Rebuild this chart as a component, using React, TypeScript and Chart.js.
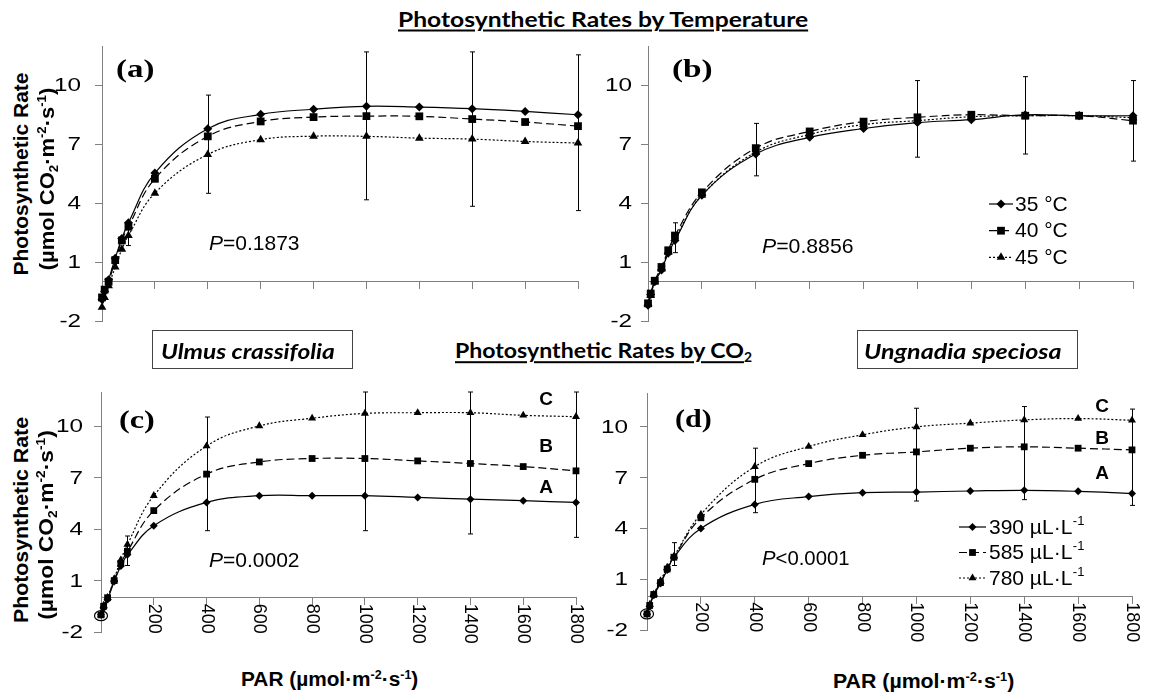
import React, { useEffect, useLayoutEffect, useRef, useState } from 'react';
import { Chart, registerables } from 'chart.js';
Chart.register(...registerables);

// ---------- data ----------
const PAR = [0, 10, 25, 50, 75, 100, 200, 400, 600, 800, 1000, 1200, 1400, 1600, 1800];
const X_TICKS = [200, 400, 600, 800, 1000, 1200, 1400, 1600, 1800];
const Y_TICKS = [-2, 1, 4, 7, 10];

// (a) Ulmus crassifolia by temperature
const A_T35 = [-0.9, -0.5, 0.1, 1.2, 2.2, 3.0, 5.53, 7.79, 8.52, 8.78, 8.93, 8.89, 8.81, 8.67, 8.5];
const A_T40 = [-0.8, -0.4, 0.0, 1.1, 2.1, 2.8, 5.24, 7.4, 8.16, 8.38, 8.43, 8.42, 8.28, 8.13, 7.92];
const A_T45 = [-1.3, -0.8, -0.2, 0.75, 1.65, 2.35, 4.51, 6.48, 7.23, 7.41, 7.4, 7.31, 7.26, 7.14, 7.06];
const A_ERR_X = [100, 400, 1000, 1400, 1800];
const A_ERR_LO = [1.84, 4.5, 4.17, 3.84, 3.62];
const A_ERR_HI = [2.9, 9.5, 11.7, 11.7, 11.55];

// (b) Ungnadia speciosa by temperature
const B_T35 = [-1.2, -0.65, 0.0, 0.6, 1.45, 2.1, 4.4, 6.5, 7.35, 7.8, 8.1, 8.25, 8.5, 8.45, 8.45];
const B_T40 = [-1.1, -0.6, 0.05, 0.75, 1.6, 2.35, 4.55, 6.8, 7.65, 8.15, 8.37, 8.5, 8.45, 8.45, 8.2];
const B_T45 = [-1.15, -0.7, 0.0, 0.65, 1.5, 2.2, 4.4, 6.6, 7.5, 8.0, 8.2, 8.4, 8.45, 8.45, 8.35];
const B_ERR_X = [100, 400, 1000, 1400, 1800];
const B_ERR_LO = [1.48, 5.39, 6.34, 6.5, 6.14];
const B_ERR_HI = [3.0, 8.06, 10.24, 10.44, 10.24];

// (c) Ulmus crassifolia by CO2
const C_390 = [-1.0, -0.6, -0.1, 0.95, 1.85, 2.5, 4.2, 5.56, 5.95, 5.95, 5.95, 5.85, 5.75, 5.66, 5.56];
const C_585 = [-1.0, -0.5, 0.0, 1.0, 2.0, 2.7, 5.08, 7.21, 7.92, 8.12, 8.12, 7.98, 7.83, 7.65, 7.4];
const C_780 = [-1.0, -0.45, 0.0, 1.1, 2.2, 3.1, 5.95, 8.85, 10.02, 10.47, 10.75, 10.79, 10.79, 10.64, 10.56];
const C_ERR_X = [100, 400, 1000, 1400, 1800];
const C_ERR_LO = [1.88, 3.91, 3.91, 3.72, 3.52];
const C_ERR_HI = [3.6, 10.54, 12, 12, 12];

// (d) Ungnadia speciosa by CO2
const D_390 = [-1.05, -0.6, 0.05, 0.75, 1.55, 2.3, 4.0, 5.42, 5.88, 6.11, 6.15, 6.21, 6.25, 6.19, 6.07];
const D_585 = [-1.05, -0.55, 0.1, 0.8, 1.6, 2.3, 4.63, 6.9, 7.83, 8.32, 8.52, 8.74, 8.82, 8.74, 8.64];
const D_780 = [-1.0, -0.5, 0.1, 0.9, 1.7, 2.35, 4.83, 7.65, 8.84, 9.53, 10.0, 10.22, 10.41, 10.49, 10.39];
const D_ERR_X = [100, 400, 1000, 1400, 1800];
const D_ERR_LO = [1.81, 4.93, 5.62, 5.7, 5.36];
const D_ERR_HI = [3.16, 8.74, 11.1, 11.2, 11.05];

const ORIGIN_MARK = [0, -1.05];

const TEMP_LABELS = ['35 °C', '40 °C', '45 °C'];
const CO2_LABELS = ['390 µL·L', '585 µL·L', '780 µL·L'];
const CO2_SUP = '-1';
const GROUP_LETTERS = ['A', 'B', 'C'];
const P_VALUES = ['=0.1873', '=0.8856', '=0.0002', '<0.0001'];
const PANEL_TAGS = ['(a)', '(b)', '(c)', '(d)'];

// ---------- styles ----------
const AXIS = '#808080';
const INK = '#000';
const SERIES_STYLE = [
  { dash: [] as number[], point: 'rectRot' },
  { dash: [8, 4], point: 'rect' },
  { dash: [2, 2], point: 'triangle' },
];

type Legend = { kind: 'temp' | 'co2'; x0: number; x1: number; tx: number; ys: number[] };
type PanelCfg = {
  id: string; left: number; top: number; w: number; h: number; padB: number;
  series: number[][]; errX: number[]; errLo: number[]; errHi: number[];
  radii: number[]; yLabOff: number; xLabels: boolean; origin: boolean; legend: Legend | null;
};

const PANELS: PanelCfg[] = [
  { id: 'a', left: 42, top: 36, w: 551, h: 295, padB: 10, series: [A_T35, A_T40, A_T45], errX: A_ERR_X, errLo: A_ERR_LO, errHi: A_ERR_HI,
    radii: [4.5, 5.5, 5], yLabOff: 21, xLabels: false, origin: false, legend: null },
  { id: 'b', left: 588, top: 36, w: 560, h: 295, padB: 10, series: [B_T35, B_T40, B_T45], errX: B_ERR_X, errLo: B_ERR_LO, errHi: B_ERR_HI,
    radii: [4.5, 5.5, 5], yLabOff: 16, xLabels: false, origin: false,
    legend: { kind: 'temp', x0: 989, x1: 1013, tx: 1015, ys: [204, 230.7, 257.3] } },
  { id: 'c', left: 41, top: 382, w: 550, h: 280, padB: 30, series: [C_390, C_585, C_780], errX: C_ERR_X, errLo: C_ERR_LO, errHi: C_ERR_HI,
    radii: [4, 4.8, 4.6], yLabOff: 18, xLabels: true, origin: true, legend: null },
  { id: 'd', left: 587, top: 383, w: 560, h: 277, padB: 30, series: [D_390, D_585, D_780], errX: D_ERR_X, errLo: D_ERR_LO, errHi: D_ERR_HI,
    radii: [4, 4.8, 4.6], yLabOff: 19, xLabels: true, origin: true,
    legend: { kind: 'co2', x0: 959, x1: 986, tx: 989, ys: [527, 552.5, 578] } },
];

function drawMarker(ctx: CanvasRenderingContext2D, style: string, x: number, y: number, r: number) {
  ctx.beginPath();
  if (style === 'rectRot') {
    ctx.moveTo(x, y - r); ctx.lineTo(x + r, y); ctx.lineTo(x, y + r); ctx.lineTo(x - r, y);
  } else if (style === 'rect') {
    const s = r * Math.SQRT1_2;
    ctx.rect(x - s, y - s, 2 * s, 2 * s);
  } else {
    for (let k = 0; k < 3; k++) {
      const a = (k * 2 * Math.PI) / 3;
      const px = x + Math.sin(a) * r, py = y - Math.cos(a) * r;
      if (k === 0) ctx.moveTo(px, py); else ctx.lineTo(px, py);
    }
  }
  ctx.closePath();
  ctx.fill();
}

function makeDecor(p: PanelCfg) {
  return {
    id: 'decor_' + p.id,
    beforeDatasetsDraw(chart: any) {
      const ctx: CanvasRenderingContext2D = chart.ctx;
      const xs = chart.scales.x, ys = chart.scales.y;
      ctx.save();
      ctx.strokeStyle = INK; ctx.lineWidth = 1;
      p.errX.forEach((xv, i) => {
        const px = Math.round(xs.getPixelForValue(xv)) + 0.5;
        const lo = ys.getPixelForValue(p.errLo[i]);
        const hi = ys.getPixelForValue(p.errHi[i]);
        ctx.beginPath();
        ctx.moveTo(px, lo); ctx.lineTo(px, hi);
        ctx.moveTo(px - 2.5, lo); ctx.lineTo(px + 2.5, lo);
        ctx.moveTo(px - 2.5, hi); ctx.lineTo(px + 2.5, hi);
        ctx.stroke();
      });
      ctx.restore();
    },
    afterDraw(chart: any) {
      const ctx: CanvasRenderingContext2D = chart.ctx;
      const xs = chart.scales.x, ys = chart.scales.y;
      const ca = chart.chartArea;
      ctx.save();
      ctx.fillStyle = INK;
      // y tick labels (stretched like the original figure)
      ctx.font = '18px "Liberation Sans", Arial, sans-serif';
      ctx.textAlign = 'right';
      ctx.textBaseline = 'middle';
      Y_TICKS.forEach((v) => {
        const y = ys.getPixelForValue(v);
        ctx.save();
        ctx.translate(ca.left - p.yLabOff, y + 1);
        ctx.scale(1.35, 1);
        ctx.fillText(String(v), 0, 0);
        ctx.restore();
      });
      // rotated x tick labels along the zero line
      if (p.xLabels) {
        const y0 = ys.getPixelForValue(0);
        ctx.textAlign = 'left';
        ctx.textBaseline = 'middle';
        X_TICKS.forEach((v) => {
          const x = xs.getPixelForValue(v);
          ctx.save();
          ctx.translate(x, y0 + 6);
          ctx.rotate(Math.PI / 2);
          ctx.fillText(String(v), 0, 0);
          ctx.restore();
        });
      }
      // circled origin point
      if (p.origin) {
        ctx.strokeStyle = INK; ctx.lineWidth = 1.2;
        ctx.beginPath();
        ctx.ellipse(xs.getPixelForValue(ORIGIN_MARK[0]), ys.getPixelForValue(ORIGIN_MARK[1]), 6.5, 5, 0, 0, Math.PI * 2);
        ctx.stroke();
      }
      // legend
      if (p.legend) {
        const L = p.legend;
        L.ys.forEach((py, i) => {
          const y = py - p.top;
          const x0 = L.x0 - p.left, x1 = L.x1 - p.left;
          ctx.strokeStyle = INK; ctx.lineWidth = 1.2;
          ctx.setLineDash(SERIES_STYLE[i].dash);
          ctx.beginPath(); ctx.moveTo(x0, y); ctx.lineTo(x1, y); ctx.stroke();
          ctx.setLineDash([]);
          drawMarker(ctx, SERIES_STYLE[i].point, (x0 + x1) / 2, y, p.radii[i]);
          ctx.font = '21px "Liberation Sans", Arial, sans-serif';
          ctx.textAlign = 'left';
          ctx.textBaseline = 'middle';
          const tx = L.tx - p.left;
          if (L.kind === 'temp') {
            ctx.fillText(TEMP_LABELS[i], tx, y + 1);
          } else {
            ctx.fillText(CO2_LABELS[i], tx, y + 1);
            const w = ctx.measureText(CO2_LABELS[i]).width;
            ctx.font = '13px "Liberation Sans", Arial, sans-serif';
            ctx.fillText(CO2_SUP, tx + w + 0.5, y - 6);
          }
        });
      }
      ctx.restore();
    },
  };
}

function Panel({ p }: { p: PanelCfg }) {
  const ref = useRef<HTMLCanvasElement>(null);
  useEffect(() => {
    const canvas = ref.current!;
    const chart = new Chart(canvas, {
      type: 'line',
      data: {
        datasets: p.series.map((vals, i) => ({
          data: PAR.map((x, j) => ({ x, y: vals[j] })),
          borderColor: INK,
          borderWidth: 1.2,
          borderDash: SERIES_STYLE[i].dash,
          pointStyle: SERIES_STYLE[i].point as any,
          pointRadius: p.radii[i],
          pointBackgroundColor: INK,
          pointBorderColor: INK,
          pointBorderWidth: 0,
          tension: 0.4,
          fill: false,
          clip: false as any,
        })),
      },
      options: {
        animation: false,
        responsive: false,
        devicePixelRatio: 1,
        events: [],
        layout: { padding: { left: 0, top: 10, right: 15, bottom: p.padB } },
        plugins: { legend: { display: false }, tooltip: { enabled: false } },
        scales: {
          x: {
            type: 'linear',
            min: 0,
            max: 1800,
            position: { y: 0 } as any,
            afterBuildTicks: (s: any) => { s.ticks = X_TICKS.map((v) => ({ value: v })); },
            afterFit: (s: any) => { s.height = 0; },
            ticks: { display: false, autoSkip: false },
            grid: { display: true, drawOnChartArea: false, drawTicks: true, tickLength: 7, color: AXIS, lineWidth: 1 },
            border: { display: true, color: AXIS, width: 1 },
          },
          y: {
            type: 'linear',
            min: -2,
            max: 12,
            afterBuildTicks: (s: any) => { s.ticks = Y_TICKS.map((v) => ({ value: v })); },
            afterFit: (s: any) => { s.width = 60; },
            ticks: { display: false, autoSkip: false },
            grid: { display: true, drawOnChartArea: false, drawTicks: true, tickLength: 7, color: AXIS, lineWidth: 1 },
            border: { display: true, color: AXIS, width: 1 },
          },
        },
      } as any,
      plugins: [makeDecor(p)],
    });
    return () => chart.destroy();
  }, [p]);
  return (
    <canvas
      ref={ref}
      width={p.w}
      height={p.h}
      style={{ position: 'absolute', left: p.left, top: p.top, width: p.w, height: p.h }}
    />
  );
}

function FitText({ x, y, w, rot, children, style }: any) {
  const ref = useRef<HTMLSpanElement>(null);
  const [k, setK] = useState(1);
  useLayoutEffect(() => {
    const el = ref.current;
    if (!el || !w) return;
    const cw = el.offsetWidth;
    if (cw > 0) setK(w / cw);
  }, [w]);
  const base: any = { position: 'absolute', whiteSpace: 'nowrap', lineHeight: 1, left: x, top: y, ...style };
  if (rot) {
    return (
      <span ref={ref} style={{ ...base, transform: `translate(-50%,-50%) rotate(-90deg) scaleX(${k})`, transformOrigin: 'center' }}>
        {children}
      </span>
    );
  }
  return (
    <span ref={ref} style={{ ...base, transform: `translateY(-50%) scaleX(${k})`, transformOrigin: 'left center' }}>
      {children}
    </span>
  );
}

const Sup = ({ c }: { c: string }) => (
  <span style={{ fontSize: '0.6em', position: 'relative', top: '-0.6em' }}>{c}</span>
);
const Sub = ({ c }: { c: string }) => (
  <span style={{ fontSize: '0.6em', position: 'relative', top: '0.3em' }}>{c}</span>
);

const SANS = '"Liberation Sans", Arial, sans-serif';
const SERIF = '"Liberation Serif", "Times New Roman", serif';
const HUMAN = 'Lato, "Open Sans", sans-serif';

function YTitle({ cx1, cx2, cy1, cy2, l1, l2 }: any) {
  const st = { fontFamily: SANS, fontWeight: 'bold', fontSize: 21 };
  return (
    <>
      <FitText x={cx1} y={cy1} w={l1} rot style={st}>Photosynthetic Rate</FitText>
      <FitText x={cx2} y={cy2} w={l2} rot style={st}>
        (µmol CO<Sub c="2" />·m<Sup c="-2" />·s<Sup c="-1" />)
      </FitText>
    </>
  );
}

function XTitle({ x, y, w }: any) {
  return (
    <FitText x={x} y={y} w={w} style={{ fontFamily: SANS, fontWeight: 'bold', fontSize: 20 }}>
      PAR (µmol·m<Sup c="-2" />·s<Sup c="-1" />)
    </FitText>
  );
}

function PText({ x, y, w, i }: any) {
  return (
    <FitText x={x} y={y} w={w} style={{ fontFamily: SANS, fontSize: 21 }}>
      <i>P</i>{P_VALUES[i]}
    </FitText>
  );
}

function Letters({ x, ys }: any) {
  return (
    <>
      {GROUP_LETTERS.map((L, i) => (
        <span key={L} style={{ position: 'absolute', left: x, top: ys[i], transform: 'translate(-50%,-50%)', fontFamily: SANS, fontWeight: 'bold', fontSize: 19, lineHeight: 1 }}>
          {L}
        </span>
      ))}
    </>
  );
}

const TAG_STYLE = { fontFamily: SERIF, fontWeight: 'bold', fontSize: 26 };

export default function App() {
  return (
    <div style={{ position: 'absolute', left: 0, top: 0, width: 1149, height: 693, background: '#fff', overflow: 'hidden', color: '#000' }}>
      {PANELS.map((p) => <Panel key={p.id} p={p} />)}

      {/* section titles */}
      <FitText x={398} y={18} w={410} style={{ fontFamily: HUMAN, fontWeight: 'bold', fontSize: 21, textDecoration: 'underline', textDecorationThickness: '1.5px', textUnderlineOffset: '3px' }}>
        Photosynthetic Rates by Temperature
      </FitText>
      <FitText x={455} y={350} w={297} style={{ fontFamily: HUMAN, fontWeight: 'bold', fontSize: 21, textDecoration: 'underline', textDecorationThickness: '1.5px', textUnderlineOffset: '3px' }}>
        Photosynthetic Rates by CO<Sub c="2" />
      </FitText>

      {/* species boxes */}
      <div style={{ position: 'absolute', left: 152, top: 330, width: 199, height: 37, border: '1px solid #444' }} />
      <FitText x={161} y={350} w={174} style={{ fontFamily: HUMAN, fontWeight: 'bold', fontStyle: 'italic', fontSize: 21 }}>
        Ulmus crassifolia
      </FitText>
      <div style={{ position: 'absolute', left: 857, top: 330, width: 219, height: 37, border: '1px solid #444' }} />
      <FitText x={864} y={350} w={198} style={{ fontFamily: HUMAN, fontWeight: 'bold', fontStyle: 'italic', fontSize: 21 }}>
        Ungnadia speciosa
      </FitText>

      {/* panel tags */}
      <FitText x={116} y={69} w={38} style={TAG_STYLE}>{PANEL_TAGS[0]}</FitText>
      <FitText x={672} y={69} w={41} style={TAG_STYLE}>{PANEL_TAGS[1]}</FitText>
      <FitText x={119} y={420} w={36} style={TAG_STYLE}>{PANEL_TAGS[2]}</FitText>
      <FitText x={675} y={419} w={37} style={TAG_STYLE}>{PANEL_TAGS[3]}</FitText>

      {/* P values */}
      <PText x={209} y={242} w={91} i={0} />
      <PText x={762} y={245} w={92} i={1} />
      <PText x={209} y={559} w={91} i={2} />
      <PText x={762} y={557} w={88} i={3} />

      {/* group letters */}
      <Letters x={546} ys={[486, 445, 398]} />
      <Letters x={1102} ys={[472, 437, 405]} />

      {/* axis titles */}
      <YTitle cx1={19.5} cx2={46} cy1={173.5} cy2={178.5} l1={203} l2={183} />
      <YTitle cx1={19.5} cx2={45} cy1={520} cy2={525} l1={206} l2={190} />
      <XTitle x={241} y={679} w={177} />
      <XTitle x={833} y={681} w={181} />
    </div>
  );
}
